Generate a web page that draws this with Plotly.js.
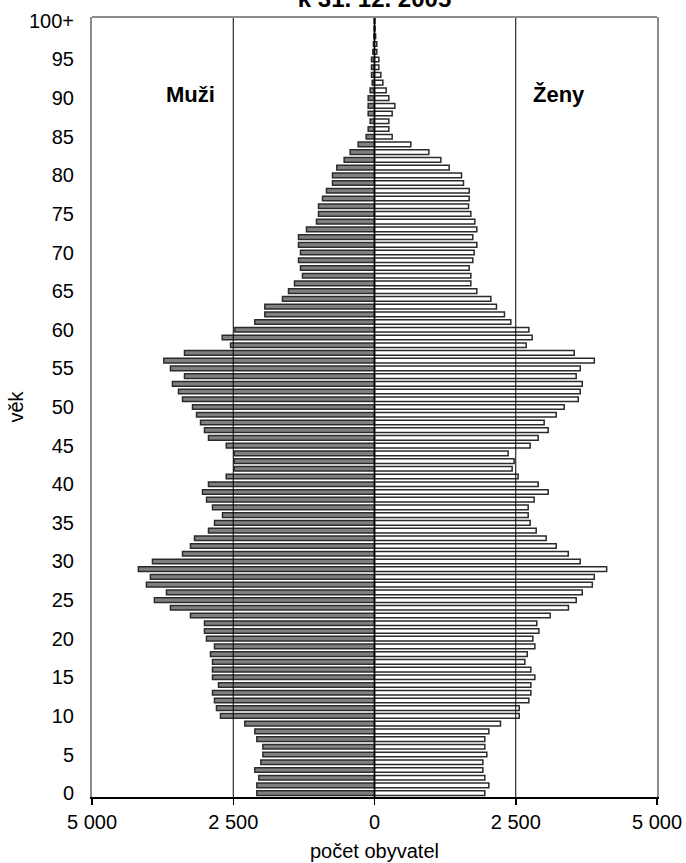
<!DOCTYPE html>
<html><head><meta charset="utf-8">
<script src="https://cdn.plot.ly/plotly-3.0.1.min.js"></script>
<style>html,body{margin:0;padding:0;background:#fff}#chart{width:686px;height:863px}</style>
</head><body><div id="chart"></div>
<script>
const ages = [0,1,2,3,4,5,6,7,8,9,10,11,12,13,14,15,16,17,18,19,20,21,22,23,24,25,26,27,28,29,30,31,32,33,34,35,36,37,38,39,40,41,42,43,44,45,46,47,48,49,50,51,52,53,54,55,56,57,58,59,60,61,62,63,64,65,66,67,68,69,70,71,72,73,74,75,76,77,78,79,80,81,82,83,84,85,86,87,88,89,90,91,92,93,94,95,96,97,98,99,100];
const men = [2083,2083,2047,2118,2012,1976,1976,2083,2118,2295,
 2726,2797,2832,2867,2761,2867,2867,2867,2903,2832,
 2974,3009,3009,3257,3611,3895,3682,4037,3966,4179,
 3930,3398,3257,3186,2938,2831,2690,2867,2973,3044,
 2938,2624,2482,2482,2482,2624,2938,3009,3079,3150,
 3221,3398,3469,3576,3363,3611,3729,3363,2548,2695,
 2472,2118,1941,1941,1629,1522,1416,1275,1310,1345,
 1310,1345,1345,1204,1027,991,991,920,850,743,
 743,667,537,431,289,148,112,77,112,112,
 112,77,41,53,53,53,30,18,10,5,3];
const women = [1953,2024,1953,1918,1918,1988,1953,1953,2024,2230,
 2561,2561,2732,2767,2767,2838,2767,2661,2703,2838,
 2803,2909,2873,3109,3433,3570,3677,3855,3890,4109,
 3641,3429,3216,3039,2862,2755,2720,2720,2826,3074,
 2897,2542,2436,2471,2365,2755,2897,3074,3003,3216,
 3357,3606,3641,3677,3570,3641,3890,3535,2684,2790,
 2732,2413,2300,2159,2059,1811,1705,1705,1676,1740,
 1764,1811,1740,1811,1776,1705,1664,1676,1676,1575,
 1540,1322,1174,962,642,313,254,254,313,360,
 254,207,148,112,77,77,41,41,20,10,8];
const xTickVals = [-5000,-2500,0,2500,5000];
const xTickText = ['5 000','2 500','0','2 500','5 000'];
const yTickVals = [0,5,10,15,20,25,30,35,40,45,50,55,60,65,70,75,80,85,90,95,100];
const yTickText = ['0','5','10','15','20','25','30','35','40','45','50','55','60','65','70','75','80','85','90','95','100+'];
const seriesNames = ['Muži','Ženy'];

const FONT = 'Liberation Sans, Arial, sans-serif';
const xMin = xTickVals[0], xMax = xTickVals[xTickVals.length-1];

const traces = [
  {type:'bar', orientation:'h', name:seriesNames[0], y:ages, x:men.map(v=>-v),
   marker:{color:'#808080', line:{color:'#2b2b2b', width:1.5}}},
  {type:'bar', orientation:'h', name:seriesNames[1], y:ages, x:women,
   marker:{color:'#ffffff', line:{color:'#2b2b2b', width:1.5}}}
];

const shapes = xTickVals.filter(v=>v>xMin && v<xMax).map(v=>({
  type:'line', xref:'x', yref:'paper', x0:v, x1:v, y0:0, y1:1,
  line:{color:'#000', width: v===0 ? 1.6 : 1}, layer:'above'}));
shapes.push({type:'line', xref:'paper', yref:'paper', x0:0, x1:1, y0:1, y1:1,
  line:{color:'#8c8c8c', width:2}, layer:'above'});

const layout = {
  width:686, height:863,
  margin:{l:92, r:29, t:17, b:66},
  paper_bgcolor:'#fff', plot_bgcolor:'#fff',
  showlegend:false,
  barmode:'overlay', bargap:0.4,
  font:{family:FONT, size:20, color:'#000'},
  title:{text:'<b>k 31. 12. 2005</b>', font:{family:FONT, size:24, color:'#000'},
         x:0.5, xanchor:'center', xref:'paper', y:0.9919, yref:'container', yanchor:'bottom'},
  xaxis:{range:[xMin,xMax], tickvals:xTickVals, ticktext:xTickText,
         showgrid:false, zeroline:false, showline:true, linecolor:'#000', linewidth:1.5,
         ticks:'outside', ticklen:6, tickcolor:'#000', tickwidth:1.5,
         tickfont:{family:FONT, size:20},
         title:{text:'počet obyvatel', font:{family:FONT, size:20}, standoff:12}},
  yaxis:{range:[-0.5,100.5], tickvals:yTickVals, ticktext:yTickText,
         showgrid:false, zeroline:false, showline:true, mirror:true, linecolor:'#8c8c8c', linewidth:2,
         ticks:'', ticklabelstandoff:12, tickfont:{family:FONT, size:20},
         title:{text:'věk', font:{family:FONT, size:20}, standoff:0}},
  shapes:shapes,
  annotations:[
    {text:'<b>'+seriesNames[0]+'</b>', xref:'paper', yref:'paper', x:0.175, y:0.9, showarrow:false,
     font:{family:FONT, size:22}, xanchor:'center', yanchor:'middle'},
    {text:'<b>'+seriesNames[1]+'</b>', xref:'paper', yref:'paper', x:0.826, y:0.9, showarrow:false,
     font:{family:FONT, size:22}, xanchor:'center', yanchor:'middle'}
  ]
};
Plotly.newPlot('chart', traces, layout, {displayModeBar:false, staticPlot:true});
</script></body></html>
